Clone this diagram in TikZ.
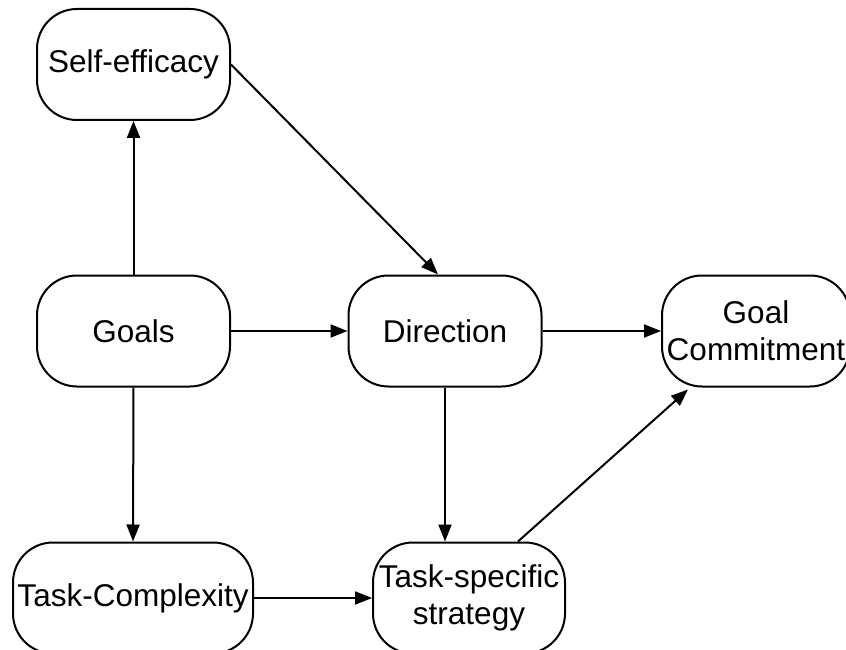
\documentclass[tikz,border=0pt]{standalone}
\usepackage{fontspec}
\setmainfont{Liberation Sans}
\usetikzlibrary{arrows.meta}
\begin{document}
\begin{tikzpicture}[x=1pt,y=-1pt,
  box/.style={draw, line width=2pt, rounded corners=40pt, fill=white,
    minimum width=193pt, minimum height=111pt, inner sep=0pt,
    align=center, font=\fontsize{31.5}{37}\selectfont},
  link/.style={line width=2pt, -{Triangle[length=17pt,width=13pt]}}]
\useasboundingbox (0,0) rectangle (846,650);
\node[box] (se) at (133.5,64.5) {Self-efficacy};
\node[box] (goals) at (133.5,331) {Goals};
\node[box] (dir) at (445,331) {Direction};
\node[box, minimum width=188pt] (gc) at (756,331) {Goal\\Commitment};
\node[box, minimum width=240pt] (tc) at (133,598) {Task-Complexity};
\node[box, minimum width=192pt] (ts) at (469,598) {Task-specific\\strategy};
\draw[link] (goals.north) -- (se.south);
\draw[link] (se.east) -- ([xshift=-7pt]dir.north);
\draw[link] (goals.east) -- (dir.west);
\draw[link] (dir.east) -- (gc.west);
\draw[link] (goals.south) -- (tc.north);
\draw[link] (dir.south) -- (dir.south |- ts.north);
\draw[link] (tc.east) -- (ts.west);
\draw[link] ([xshift=49pt]ts.north) -- ([xshift=-68pt,yshift=-2pt]gc.south);
\end{tikzpicture}
\end{document}
